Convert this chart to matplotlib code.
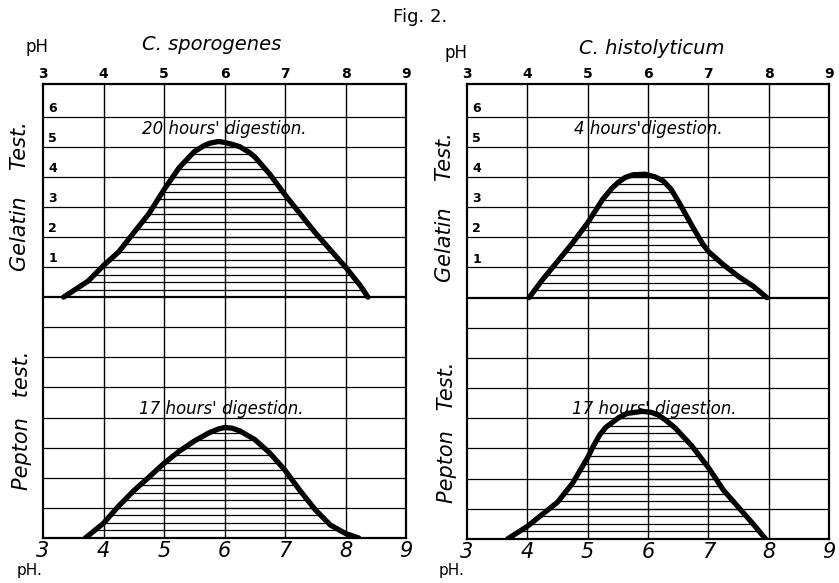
import numpy as np
import matplotlib
matplotlib.use('Agg')
import matplotlib.pyplot as plt
from matplotlib.patches import Polygon

# pH readings and activity values
spor_gel_ph = [3.34, 3.75, 4.0, 4.25, 4.5, 4.75, 5.0, 5.25, 5.4, 5.5, 5.65, 5.75, 5.9, 6.0,
               6.12, 6.25, 6.4, 6.5, 6.75, 7.0, 7.25, 7.5, 7.75, 8.0, 8.25, 8.37]
spor_gel_val = [0.0, 0.54, 1.05, 1.5, 2.14, 2.77, 3.57, 4.3, 4.62, 4.83, 5.02, 5.11, 5.17, 5.14,
                5.08, 5.0, 4.82, 4.66, 4.08, 3.4, 2.77, 2.14, 1.57, 1.0, 0.37, 0.0]

hist_gel_ph = [4.03, 4.25, 4.5, 4.75, 5.0, 5.25, 5.4, 5.5, 5.62, 5.75, 5.95, 6.12, 6.25,
               6.38, 6.5, 6.75, 6.9, 7.0, 7.25, 7.5, 7.75, 7.97]
hist_gel_val = [0.0, 0.59, 1.2, 1.81, 2.48, 3.26, 3.62, 3.81, 3.98, 4.07, 4.09, 4.0, 3.87,
                3.6, 3.2, 2.31, 1.8, 1.53, 1.09, 0.7, 0.37, 0.0]

spor_pep_ph = [3.7, 4.0, 4.25, 4.5, 4.75, 5.0, 5.25, 5.5, 5.75, 5.9, 6.0, 6.12, 6.25, 6.5,
               6.75, 7.0, 7.25, 7.5, 7.75, 8.0, 8.22]
spor_pep_val = [0.0, 0.49, 1.06, 1.57, 2.02, 2.48, 2.88, 3.22, 3.5, 3.62, 3.67, 3.65, 3.56, 3.27,
                2.82, 2.25, 1.57, 0.94, 0.43, 0.15, 0.0]

hist_pep_ph = [3.67, 4.0, 4.25, 4.5, 4.75, 5.0, 5.1, 5.2, 5.3, 5.4, 5.52, 5.65, 5.9, 6.05,
               6.17, 6.3, 6.45, 6.72, 7.0, 7.25, 7.5, 7.75, 7.95]
hist_pep_val = [0.0, 0.42, 0.82, 1.22, 1.85, 2.7, 3.1, 3.45, 3.7, 3.85, 4.03, 4.16, 4.23, 4.2,
                4.11, 3.93, 3.68, 3.1, 2.37, 1.62, 1.05, 0.48, 0.0]

ph_ticks = [3, 4, 5, 6, 7, 8, 9]
gel_labels = ['1', '2', '3', '4', '5', '6']
titles = ['C. sporogenes', 'C. histolyticum']
gel_notes = ["20 hours' digestion.", "4 hours'digestion."]
pep_notes = ["17 hours' digestion.", "17 hours' digestion."]

W, H = 839, 583
OFFSET = 8   # gelatin panel sits on top of the pepton panel
YTOP = 15.08


def fpos(x, y):
    return x / W, 1 - y / H


def curva(ax, ph, val, base):
    y = np.array(val) + base
    pts = np.column_stack([ph, y])
    poly = Polygon(pts, closed=True, facecolor='none', edgecolor='none')
    ax.add_patch(poly)
    niveles = np.arange(base + 0.25, base + max(val), 0.25)
    lineas = ax.hlines(niveles, min(ph), max(ph), color='black', lw=0.9, zorder=2)
    lineas.set_clip_path(poly)
    ax.plot(ph, y, color='black', lw=3.8, solid_joinstyle='round',
            solid_capstyle='round', zorder=4)


def panel(ax, gel, pep, gel_note, pep_note, pep_pos):
    ax.set_xlim(3, 9)
    ax.set_ylim(0, YTOP)
    for x in ph_ticks[1:-1]:
        ax.axvline(x, color='black', lw=1.0, zorder=1)
    for y in range(1, 15):
        ax.axhline(y, color='black', lw=1.6 if y == OFFSET else 0.9, zorder=1)
    for s in ax.spines.values():
        s.set_linewidth(1.6)
    ax.set_xticks(ph_ticks)
    ax.set_xticklabels([str(t) for t in ph_ticks], fontsize=15, style='italic')
    ax.set_yticks([])
    ax.tick_params(axis='x', length=0, pad=2)
    top = ax.secondary_xaxis('top')
    top.set_xticks(ph_ticks)
    top.set_xticklabels([str(t) for t in ph_ticks], fontsize=10, fontweight='bold')
    top.tick_params(length=0, pad=2)
    top.spines['top'].set_visible(False)

    curva(ax, gel[0], gel[1], OFFSET)
    curva(ax, pep[0], pep[1], 0)

    for i, lab in enumerate(gel_labels):
        ax.text(3.09, OFFSET + i + 1 + 0.06, lab, fontsize=9, fontweight='bold',
                ha='left', va='bottom')
    ax.text(6.0, OFFSET + 5.6, gel_note, fontsize=12, style='italic',
            ha='center', va='center')
    ax.text(pep_pos, 4.3, pep_note, fontsize=12, style='italic',
            ha='center', va='center')


fig = plt.figure(figsize=(W / 100, H / 100), dpi=100)
axL = fig.add_axes([43 / W, 1 - 538 / H, 363 / W, 454 / H])
axR = fig.add_axes([467 / W, 1 - 539 / H, 362 / W, 455 / H])

panel(axL, (spor_gel_ph, spor_gel_val), (spor_pep_ph, spor_pep_val),
      gel_notes[0], pep_notes[0], 5.95)
panel(axR, (hist_gel_ph, hist_gel_val), (hist_pep_ph, hist_pep_val),
      gel_notes[1], pep_notes[1], 6.1)

fig.text(*fpos(420, 17), 'Fig. 2.', fontsize=13, ha='center', va='center')
fig.text(*fpos(212, 45), titles[0], fontsize=14, style='italic', ha='center', va='center')
fig.text(*fpos(652, 48), titles[1], fontsize=14, style='italic', ha='center', va='center')
fig.text(*fpos(37, 47), 'pH', fontsize=12, ha='center', va='center')
fig.text(*fpos(456, 53), 'pH', fontsize=12, ha='center', va='center')
fig.text(*fpos(30, 570), 'pH.', fontsize=11, ha='center', va='center')
fig.text(*fpos(452, 570), 'pH.', fontsize=11, ha='center', va='center')

fig.text(*fpos(20, 196), 'Gelatin    Test.', fontsize=15, style='italic', rotation=90,
         ha='center', va='center')
fig.text(*fpos(22, 420), 'Pepton   test.', fontsize=15, style='italic', rotation=90,
         ha='center', va='center')
fig.text(*fpos(445, 207), 'Gelatin    Test.', fontsize=15, style='italic', rotation=90,
         ha='center', va='center')
fig.text(*fpos(447, 432), 'Pepton   Test.', fontsize=15, style='italic', rotation=90,
         ha='center', va='center')

fig.savefig('out.png', dpi=100)
